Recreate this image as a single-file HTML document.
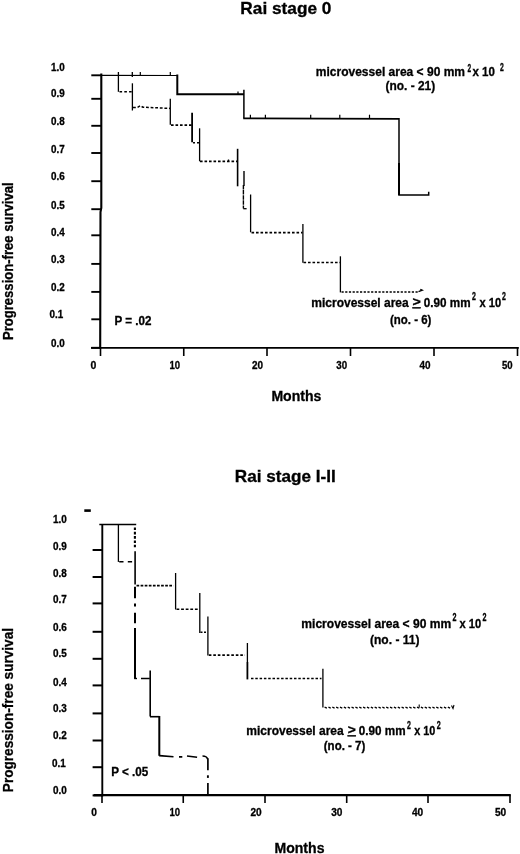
<!DOCTYPE html>
<html><head><meta charset="utf-8"><title>Progression-free survival</title>
<style>
html,body{margin:0;padding:0;background:#fff;}
svg{display:block;font-family:"Liberation Sans",sans-serif;font-weight:bold;fill:#000;stroke:none;}
svg line,svg polyline,svg path{stroke:#000;}
svg text{stroke:#000;stroke-width:0.3px;}
</style></head><body>
<svg width="520" height="854" viewBox="0 0 520 854">
<rect width="520" height="854" fill="#fff"/>
<text x="240.36" y="13.80" font-size="16.6" textLength="91.08" lengthAdjust="spacingAndGlyphs">Rai stage 0</text>
<polyline fill="none" stroke-width="2.1" points="101.3,73.5 101.3,208 100.5,212 100.2,348.5"/>
<line x1="91.00" y1="347.80" x2="518.80" y2="347.80" stroke-width="1.7"/>
<line x1="91.30" y1="75.30" x2="101.00" y2="75.30" stroke-width="1.9"/>
<line x1="91.30" y1="98.80" x2="101.00" y2="98.80" stroke-width="1.9"/>
<line x1="91.30" y1="125.80" x2="101.00" y2="125.80" stroke-width="1.9"/>
<line x1="91.30" y1="153.00" x2="101.00" y2="153.00" stroke-width="1.9"/>
<line x1="91.30" y1="181.20" x2="101.00" y2="181.20" stroke-width="1.9"/>
<line x1="91.30" y1="209.20" x2="101.00" y2="209.20" stroke-width="1.9"/>
<line x1="91.30" y1="235.30" x2="101.00" y2="235.30" stroke-width="1.9"/>
<line x1="91.30" y1="263.90" x2="101.00" y2="263.90" stroke-width="1.9"/>
<line x1="91.30" y1="291.90" x2="101.00" y2="291.90" stroke-width="1.9"/>
<line x1="91.30" y1="319.30" x2="101.00" y2="319.30" stroke-width="1.9"/>
<line x1="91.30" y1="347.80" x2="101.00" y2="347.80" stroke-width="1.9"/>
<text x="51.10" y="70.70" font-size="10.4" textLength="13.69" lengthAdjust="spacingAndGlyphs">1.0</text>
<text x="51.10" y="96.80" font-size="10.4" textLength="13.69" lengthAdjust="spacingAndGlyphs">0.9</text>
<text x="51.10" y="125.30" font-size="10.4" textLength="13.69" lengthAdjust="spacingAndGlyphs">0.8</text>
<text x="51.10" y="152.70" font-size="10.4" textLength="13.69" lengthAdjust="spacingAndGlyphs">0.7</text>
<text x="51.10" y="179.90" font-size="10.4" textLength="13.69" lengthAdjust="spacingAndGlyphs">0.6</text>
<text x="51.10" y="208.50" font-size="10.4" textLength="13.69" lengthAdjust="spacingAndGlyphs">0.5</text>
<text x="51.10" y="235.80" font-size="10.4" textLength="13.69" lengthAdjust="spacingAndGlyphs">0.4</text>
<text x="51.10" y="262.70" font-size="10.4" textLength="13.69" lengthAdjust="spacingAndGlyphs">0.3</text>
<text x="51.10" y="291.20" font-size="10.4" textLength="13.69" lengthAdjust="spacingAndGlyphs">0.2</text>
<text x="49.60" y="318.10" font-size="10.4" textLength="13.69" lengthAdjust="spacingAndGlyphs">0.1</text>
<text x="51.10" y="346.80" font-size="10.4" textLength="13.69" lengthAdjust="spacingAndGlyphs">0.0</text>
<line x1="100.50" y1="347.80" x2="100.50" y2="356.00" stroke-width="1.6"/>
<line x1="183.75" y1="347.80" x2="183.75" y2="356.00" stroke-width="1.6"/>
<line x1="267.00" y1="347.80" x2="267.00" y2="356.00" stroke-width="1.6"/>
<line x1="350.50" y1="347.80" x2="350.50" y2="356.00" stroke-width="1.6"/>
<line x1="434.00" y1="347.80" x2="434.00" y2="356.00" stroke-width="1.6"/>
<line x1="517.50" y1="347.80" x2="517.50" y2="356.00" stroke-width="1.6"/>
<text x="90.50" y="369.30" font-size="10.5" textLength="5.84" lengthAdjust="spacingAndGlyphs">0</text>
<text x="169.50" y="369.30" font-size="10.5" textLength="10.65" lengthAdjust="spacingAndGlyphs">10</text>
<text x="252.00" y="369.30" font-size="10.5" textLength="11.05" lengthAdjust="spacingAndGlyphs">20</text>
<text x="336.25" y="369.30" font-size="10.5" textLength="10.85" lengthAdjust="spacingAndGlyphs">30</text>
<text x="419.50" y="369.30" font-size="10.5" textLength="11.05" lengthAdjust="spacingAndGlyphs">40</text>
<text x="502.00" y="369.30" font-size="10.5" textLength="10.65" lengthAdjust="spacingAndGlyphs">50</text>
<text x="271.40" y="400.80" font-size="14.3" textLength="49.95" lengthAdjust="spacingAndGlyphs">Months</text>
<text transform="translate(12.70,340.00) rotate(-90)" font-size="14.6" textLength="157.55" lengthAdjust="spacingAndGlyphs">Progression-free survival</text>
<text x="114.50" y="324.50" font-size="12.4" textLength="37.00" lengthAdjust="spacingAndGlyphs">P = .02</text>
<text x="315.80" y="76.10" font-size="12.4" textLength="149.22" lengthAdjust="spacingAndGlyphs">microvessel area &lt; 90 mm</text>
<text x="467.50" y="72.00" font-size="10" textLength="3.61" lengthAdjust="spacingAndGlyphs">2</text>
<text x="472.50" y="76.10" font-size="12.4" textLength="22.40" lengthAdjust="spacingAndGlyphs">x 10</text>
<text x="500.00" y="70.60" font-size="10" textLength="3.80" lengthAdjust="spacingAndGlyphs">2</text>
<text x="385.50" y="90.30" font-size="12.4" textLength="49.62" lengthAdjust="spacingAndGlyphs">(no. - 21)</text>
<text x="311.30" y="307.00" font-size="12.4" textLength="97.39" lengthAdjust="spacingAndGlyphs">microvessel area</text>
<text x="412.50" y="306.20" font-size="12.4" textLength="8.27" lengthAdjust="spacingAndGlyphs" text-decoration="underline">&gt;</text>
<text x="423.75" y="307.00" font-size="12.4" textLength="46.77" lengthAdjust="spacingAndGlyphs">0.90 mm</text>
<text x="472.00" y="300.40" font-size="10" textLength="3.89" lengthAdjust="spacingAndGlyphs">2</text>
<text x="479.50" y="307.00" font-size="12.4" textLength="21.65" lengthAdjust="spacingAndGlyphs">x 10</text>
<text x="502.00" y="300.10" font-size="10" textLength="3.89" lengthAdjust="spacingAndGlyphs">2</text>
<text x="390.00" y="323.80" font-size="12.4" textLength="41.37" lengthAdjust="spacingAndGlyphs">(no. - 6)</text>
<line x1="101.00" y1="75.30" x2="177.50" y2="75.50" stroke-width="1.2"/>
<polyline fill="none" stroke-width="2" points="177.3,74.6 177.3,94.3 244,94.3"/>
<polyline fill="none" stroke-width="1.5" points="243.9,89.8 243.9,118"/>
<polyline fill="none" stroke-width="1.8" points="243.2,118.4 399,118.8"/>
<polyline fill="none" stroke-width="1.5" points="399,118 399,163"/>
<polyline fill="none" stroke-width="2" points="399,163 399,195 "/>
<polyline fill="none" stroke-width="1.5" points="398.2,195 428.7,195 428.7,191.8"/>
<line x1="132.30" y1="72.00" x2="132.30" y2="77.00" stroke-width="1.3"/>
<line x1="140.30" y1="72.00" x2="140.30" y2="75.50" stroke-width="1.2"/>
<line x1="170.30" y1="72.00" x2="170.30" y2="75.50" stroke-width="1.2"/>
<line x1="238.00" y1="91.60" x2="238.00" y2="95.00" stroke-width="1.2"/>
<line x1="250.40" y1="114.70" x2="250.40" y2="118.50" stroke-width="1.2"/>
<line x1="265.40" y1="114.70" x2="265.40" y2="118.50" stroke-width="1.2"/>
<line x1="310.70" y1="114.70" x2="310.70" y2="118.50" stroke-width="1.2"/>
<line x1="339.80" y1="114.70" x2="339.80" y2="118.50" stroke-width="1.2"/>
<line x1="369.50" y1="114.70" x2="369.50" y2="118.50" stroke-width="1.2"/>
<line x1="118.40" y1="72.00" x2="118.40" y2="91.80" stroke-width="1.3"/>
<line x1="119.50" y1="91.80" x2="132.50" y2="91.80" stroke-width="1.6" stroke-dasharray="2.6 2.2"/>
<line x1="132.40" y1="83.30" x2="132.40" y2="110.50" stroke-width="1.3"/>
<path fill="none" stroke-width="1.5" stroke-dasharray="2.8 1.8" d="M133,107.6 L137.5,107.4 L140.3,105.8 L143,107.2 L170,108.4"/>
<line x1="170.30" y1="98.70" x2="170.30" y2="124.80" stroke-width="1.3"/>
<line x1="171.00" y1="125.10" x2="192.00" y2="125.10" stroke-width="1.7" stroke-dasharray="2.6 1.9"/>
<line x1="192.10" y1="112.70" x2="192.10" y2="142.20" stroke-width="1.8"/>
<line x1="193.00" y1="142.80" x2="199.50" y2="142.80" stroke-width="1.5" stroke-dasharray="2 2"/>
<line x1="199.60" y1="128.30" x2="199.60" y2="161.30" stroke-width="1.3"/>
<line x1="200.00" y1="161.30" x2="237.50" y2="161.30" stroke-width="1.7" stroke-dasharray="2.6 1.9"/>
<line x1="228.50" y1="159.50" x2="228.50" y2="161.00" stroke-width="1.3"/>
<line x1="237.60" y1="148.80" x2="237.60" y2="186.30" stroke-width="1.6"/>
<line x1="244.00" y1="171.00" x2="244.00" y2="186.00" stroke-width="1.4"/>
<line x1="243.40" y1="185.00" x2="243.40" y2="208.50" stroke-width="1.4" stroke-dasharray="4.5 0.6"/>
<line x1="243.30" y1="208.70" x2="246.60" y2="208.70" stroke-width="1.3"/>
<line x1="250.60" y1="194.50" x2="250.60" y2="232.30" stroke-width="1.3"/>
<line x1="251.50" y1="232.70" x2="302.50" y2="232.70" stroke-width="1.7" stroke-dasharray="2.6 1.9"/>
<line x1="302.90" y1="224.00" x2="302.90" y2="262.80" stroke-width="1.3"/>
<line x1="303.50" y1="262.50" x2="340.00" y2="262.50" stroke-width="1.7" stroke-dasharray="2.6 1.9"/>
<line x1="340.40" y1="256.30" x2="340.40" y2="292.40" stroke-width="1.3"/>
<line x1="341.50" y1="291.90" x2="419.00" y2="291.90" stroke-width="1.5" stroke-dasharray="2.2 1.5"/>
<path fill="none" stroke-width="1.3" d="M418.5,291.6 L422.3,290.2 L420.3,289.3"/>
<text x="234.87" y="482.20" font-size="16.6" textLength="100.86" lengthAdjust="spacingAndGlyphs">Rai stage I-II</text>
<line x1="84.30" y1="510.60" x2="90.80" y2="510.60" stroke-width="2.6"/>
<line x1="102.30" y1="524.00" x2="102.30" y2="796.50" stroke-width="1.9"/>
<line x1="93.75" y1="795.20" x2="510.80" y2="795.20" stroke-width="2.2"/>
<line x1="92.60" y1="550.00" x2="102.00" y2="550.00" stroke-width="2"/>
<line x1="92.60" y1="577.00" x2="102.00" y2="577.00" stroke-width="2"/>
<line x1="92.60" y1="603.40" x2="102.00" y2="603.40" stroke-width="2"/>
<line x1="92.60" y1="631.80" x2="102.00" y2="631.80" stroke-width="2"/>
<line x1="92.60" y1="658.80" x2="102.00" y2="658.80" stroke-width="2"/>
<line x1="92.60" y1="685.40" x2="102.00" y2="685.40" stroke-width="2"/>
<line x1="92.60" y1="713.40" x2="102.00" y2="713.40" stroke-width="2"/>
<line x1="92.60" y1="740.50" x2="102.00" y2="740.50" stroke-width="2"/>
<line x1="92.60" y1="767.20" x2="102.00" y2="767.20" stroke-width="2"/>
<line x1="92.60" y1="795.40" x2="102.00" y2="795.40" stroke-width="2"/>
<text x="53.00" y="522.60" font-size="10.4" textLength="13.79" lengthAdjust="spacingAndGlyphs">1.0</text>
<text x="53.00" y="549.70" font-size="10.4" textLength="13.79" lengthAdjust="spacingAndGlyphs">0.9</text>
<text x="53.00" y="577.00" font-size="10.4" textLength="13.79" lengthAdjust="spacingAndGlyphs">0.8</text>
<text x="53.00" y="603.40" font-size="10.4" textLength="13.79" lengthAdjust="spacingAndGlyphs">0.7</text>
<text x="53.00" y="630.50" font-size="10.4" textLength="13.79" lengthAdjust="spacingAndGlyphs">0.6</text>
<text x="53.00" y="657.40" font-size="10.4" textLength="13.79" lengthAdjust="spacingAndGlyphs">0.5</text>
<text x="53.00" y="685.70" font-size="10.4" textLength="13.79" lengthAdjust="spacingAndGlyphs">0.4</text>
<text x="53.00" y="712.30" font-size="10.4" textLength="13.79" lengthAdjust="spacingAndGlyphs">0.3</text>
<text x="53.00" y="739.20" font-size="10.4" textLength="13.79" lengthAdjust="spacingAndGlyphs">0.2</text>
<text x="52.00" y="767.40" font-size="10.4" textLength="13.79" lengthAdjust="spacingAndGlyphs">0.1</text>
<text x="53.00" y="793.80" font-size="10.4" textLength="13.79" lengthAdjust="spacingAndGlyphs">0.0</text>
<line x1="102.00" y1="795.30" x2="102.00" y2="803.00" stroke-width="1.6"/>
<line x1="183.25" y1="795.30" x2="183.25" y2="803.00" stroke-width="1.6"/>
<line x1="265.00" y1="795.30" x2="265.00" y2="803.00" stroke-width="1.6"/>
<line x1="346.70" y1="795.30" x2="346.70" y2="803.00" stroke-width="1.6"/>
<line x1="428.00" y1="795.30" x2="428.00" y2="803.00" stroke-width="1.6"/>
<line x1="510.00" y1="795.30" x2="510.00" y2="803.00" stroke-width="1.6"/>
<text x="91.25" y="816.30" font-size="10.5" textLength="5.64" lengthAdjust="spacingAndGlyphs">0</text>
<text x="169.50" y="816.30" font-size="10.5" textLength="10.65" lengthAdjust="spacingAndGlyphs">10</text>
<text x="250.50" y="816.30" font-size="10.5" textLength="11.25" lengthAdjust="spacingAndGlyphs">20</text>
<text x="331.25" y="816.30" font-size="10.5" textLength="11.25" lengthAdjust="spacingAndGlyphs">30</text>
<text x="412.00" y="816.30" font-size="10.5" textLength="11.25" lengthAdjust="spacingAndGlyphs">40</text>
<text x="495.00" y="816.30" font-size="10.5" textLength="11.25" lengthAdjust="spacingAndGlyphs">50</text>
<text x="274.50" y="852.50" font-size="14.3" textLength="49.95" lengthAdjust="spacingAndGlyphs">Months</text>
<text transform="translate(12.70,792.20) rotate(-90)" font-size="14.6" textLength="164.25" lengthAdjust="spacingAndGlyphs">Progression-free survival</text>
<text x="111.20" y="775.50" font-size="12.4" textLength="37.10" lengthAdjust="spacingAndGlyphs">P &lt; .05</text>
<text x="301.30" y="627.50" font-size="12.4" textLength="149.97" lengthAdjust="spacingAndGlyphs">microvessel area &lt; 90 mm</text>
<text x="452.50" y="621.20" font-size="10" textLength="3.99" lengthAdjust="spacingAndGlyphs">2</text>
<text x="459.50" y="627.50" font-size="12.4" textLength="21.65" lengthAdjust="spacingAndGlyphs">x 10</text>
<text x="482.50" y="621.00" font-size="10" textLength="3.99" lengthAdjust="spacingAndGlyphs">2</text>
<text x="370.00" y="643.80" font-size="12.4" textLength="49.52" lengthAdjust="spacingAndGlyphs">(no. - 11)</text>
<text x="246.30" y="735.00" font-size="12.4" textLength="97.39" lengthAdjust="spacingAndGlyphs">microvessel area</text>
<text x="347.80" y="734.20" font-size="12.4" textLength="8.06" lengthAdjust="spacingAndGlyphs" text-decoration="underline">&gt;</text>
<text x="358.75" y="735.00" font-size="12.4" textLength="46.77" lengthAdjust="spacingAndGlyphs">0.90 mm</text>
<text x="407.00" y="729.20" font-size="10" textLength="3.89" lengthAdjust="spacingAndGlyphs">2</text>
<text x="414.25" y="735.00" font-size="12.4" textLength="21.15" lengthAdjust="spacingAndGlyphs">x 10</text>
<text x="436.75" y="729.00" font-size="10" textLength="3.99" lengthAdjust="spacingAndGlyphs">2</text>
<text x="323.75" y="750.00" font-size="12.4" textLength="41.62" lengthAdjust="spacingAndGlyphs">(no. - 7)</text>
<line x1="99.30" y1="524.50" x2="136.20" y2="524.50" stroke-width="1.7"/>
<line x1="118.40" y1="524.00" x2="118.40" y2="561.90" stroke-width="1.3"/>
<line x1="119.20" y1="561.70" x2="133.00" y2="561.70" stroke-width="1.6" stroke-dasharray="4.3 4.3"/>
<line x1="134.90" y1="527.50" x2="134.90" y2="549.00" stroke-width="2.1" stroke-dasharray="2.6 1.7"/>
<line x1="135.10" y1="551.30" x2="135.10" y2="584.50" stroke-width="1.6"/>
<line x1="136.50" y1="585.70" x2="173.50" y2="585.70" stroke-width="1.7" stroke-dasharray="2.7 1.4"/>
<line x1="175.60" y1="573.00" x2="175.60" y2="609.50" stroke-width="1.3"/>
<line x1="176.50" y1="609.20" x2="199.00" y2="609.20" stroke-width="1.6" stroke-dasharray="2.8 1.8"/>
<line x1="199.80" y1="593.00" x2="199.80" y2="632.90" stroke-width="1.3"/>
<line x1="200.50" y1="632.30" x2="206.50" y2="632.30" stroke-width="1.4" stroke-dasharray="2 1.5"/>
<line x1="207.90" y1="616.40" x2="207.90" y2="655.40" stroke-width="1.3"/>
<line x1="208.80" y1="655.20" x2="245.00" y2="655.20" stroke-width="1.7" stroke-dasharray="2.6 1.9"/>
<line x1="247.40" y1="643.00" x2="247.40" y2="662.00" stroke-width="1.3"/>
<line x1="247.40" y1="662.00" x2="247.40" y2="679.40" stroke-width="1.8"/>
<line x1="251.00" y1="678.60" x2="321.50" y2="678.60" stroke-width="1.5" stroke-dasharray="2.5 1.8"/>
<line x1="322.90" y1="668.70" x2="322.90" y2="707.50" stroke-width="1.3"/>
<path fill="none" stroke-width="1.4" d="M324.60,707.2 l2.3,0.9 M328.45,707.2 l2.3,0.9 M332.30,707.2 l2.3,0.9 M336.15,707.2 l2.3,0.9 M340.00,707.2 l2.3,0.9 M343.85,707.2 l2.3,0.9 M347.70,707.2 l2.3,0.9 M351.55,707.2 l2.3,0.9 M355.40,707.2 l2.3,0.9 M359.25,707.2 l2.3,0.9 M363.10,707.2 l2.3,0.9 M366.95,707.2 l2.3,0.9 M370.80,707.2 l2.3,0.9 M374.65,707.2 l2.3,0.9 M378.50,707.2 l2.3,0.9 M382.35,707.2 l2.3,0.9 M386.20,707.2 l2.3,0.9 M390.05,707.2 l2.3,0.9 M393.90,707.2 l2.3,0.9 M397.75,707.2 l2.3,0.9 M401.60,707.2 l2.3,0.9 M405.45,707.2 l2.3,0.9 M409.30,707.2 l2.3,0.9 M413.15,707.2 l2.3,0.9 M417.00,707.2 l2.3,0.9 M420.85,707.2 l2.3,0.9 M424.70,707.2 l2.3,0.9 M428.55,707.2 l2.3,0.9 M432.40,707.2 l2.3,0.9 M436.25,707.2 l2.3,0.9 M440.10,707.2 l2.3,0.9 M443.95,707.2 l2.3,0.9 M447.80,707.2 l2.3,0.9"/>
<path fill="none" stroke-width="1.1" d="M451.5,705.6 L453,708.6 L454,705"/>
<line x1="419.20" y1="704.60" x2="419.20" y2="707.50" stroke-width="1.1"/>
<line x1="135.00" y1="586.70" x2="135.00" y2="598.30" stroke-width="2"/>
<line x1="135.00" y1="603.50" x2="135.00" y2="606.50" stroke-width="2"/>
<line x1="135.00" y1="612.70" x2="135.00" y2="623.30" stroke-width="2"/>
<line x1="135.00" y1="628.00" x2="135.00" y2="678.80" stroke-width="2"/>
<line x1="134.20" y1="678.50" x2="137.00" y2="678.50" stroke-width="1.4"/>
<line x1="141.00" y1="678.50" x2="149.80" y2="678.50" stroke-width="1.5"/>
<line x1="150.20" y1="670.50" x2="150.20" y2="716.50" stroke-width="1.6"/>
<line x1="150.00" y1="716.70" x2="159.40" y2="716.70" stroke-width="1.6"/>
<line x1="159.30" y1="716.00" x2="159.30" y2="755.80" stroke-width="2"/>
<path fill="none" stroke-width="1.6" d="M159.2,755.6 L173.5,756.8 M179,756.9 L182.3,756.9 M187,756 L197.1,757.2 M202.5,756 Q206.8,756 207.5,759"/>
<line x1="207.90" y1="758.20" x2="207.90" y2="770.30" stroke-width="1.7"/>
<line x1="207.90" y1="775.30" x2="207.90" y2="777.90" stroke-width="1.9"/>
<line x1="207.90" y1="783.00" x2="207.90" y2="794.50" stroke-width="1.7"/>
</svg>
</body></html>
